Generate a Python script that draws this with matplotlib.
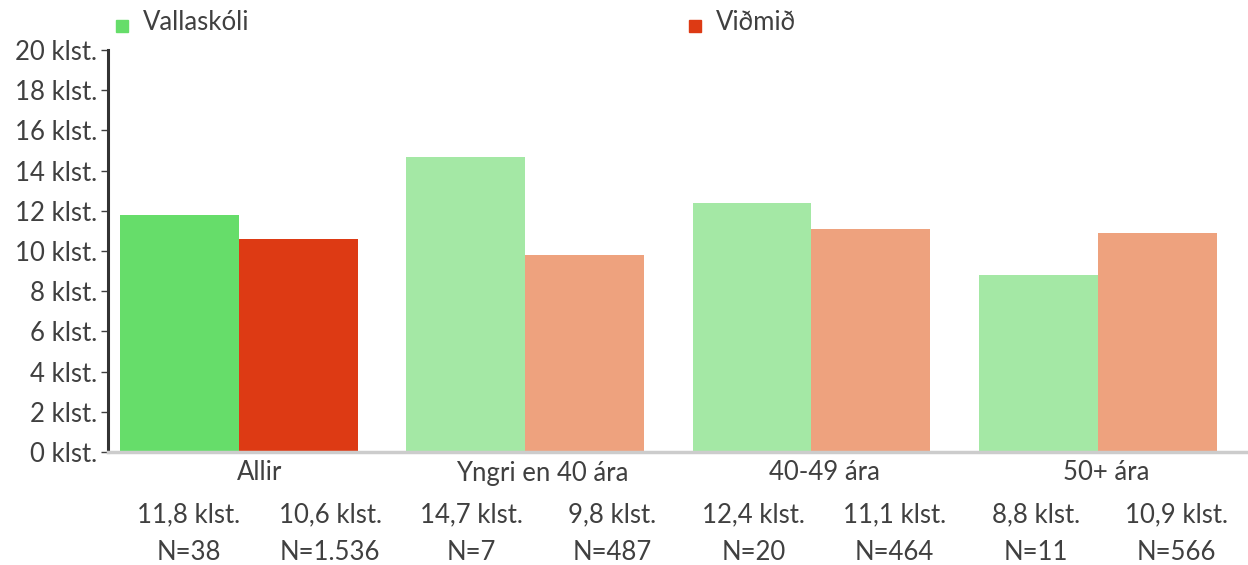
import matplotlib
matplotlib.use("Agg")
import matplotlib.pyplot as plt
from matplotlib.patches import Rectangle

categories = ["Allir", "Yngri en 40 ára", "40-49 ára", "50+ ára"]
school = [11.8, 14.7, 12.4, 8.8]
benchmark = [10.6, 9.8, 11.1, 10.9]
school_n = ["N=38", "N=7", "N=20", "N=11"]
bench_n = ["N=1.536", "N=487", "N=464", "N=566"]
series_names = ["Vallaskóli", "Viðmið"]
yticks = list(range(0, 21, 2))

plt.rcParams['font.family'] = ['Lato', 'DejaVu Sans']
txt = "#404040"
fs = 18.5
W, H = 1248, 565

fig = plt.figure(figsize=(W/100, H/100), dpi=100)
ax = fig.add_axes([108/W, 1-452/H, 1-108/W, (452-50)/H])

school_cols = ["#66dd6a"] + ["#a4e8a5"] * 3
bench_cols = ["#dd3a14"] + ["#eea27e"] * 3
w = 0.415
xs = list(range(len(categories)))
ax.bar([x - w/2 for x in xs], school, width=w, color=school_cols)
ax.bar([x + w/2 for x in xs], benchmark, width=w, color=bench_cols)

ax.set_xlim(-0.457, 3.525)
ax.set_ylim(0, 20)
ax.set_yticks(yticks)
ax.set_yticklabels([f"{t} klst." for t in yticks], color=txt, fontsize=fs)
ax.tick_params(axis='y', length=5, width=1, color=txt, pad=3)
ax.set_xticks([])
for s in ["top", "right"]:
    ax.spines[s].set_visible(False)
ax.spines["left"].set_color("#333333")
ax.spines["left"].set_linewidth(2.2)
ax.spines["bottom"].set_color("#cccccc")
ax.spines["bottom"].set_linewidth(2.5)

def fmt(v):
    return f"{v:.1f}".replace(".", ",") + " klst."

# table of labels below the chart: 8 evenly spaced columns
col0, colstep = 189, 141.1
for i, c in enumerate(categories):
    xa = col0 + colstep * (2 * i)
    xb = col0 + colstep * (2 * i + 1)
    fig.text((xa + xb) / 2 / W, 1 - 473 / H, c, ha='center', va='center', fontsize=fs, color=txt)
    for xc, v, n in [(xa, school[i], school_n[i]), (xb, benchmark[i], bench_n[i])]:
        fig.text(xc / W, 1 - 515 / H, fmt(v), ha='center', va='center', fontsize=fs, color=txt)
        fig.text(xc / W, 1 - 553 / H, n, ha='center', va='center', fontsize=fs, color=txt)

# legend
for xpix, col, name in [(116, "#66dd6a", series_names[0]), (689, "#dd3a14", series_names[1])]:
    fig.patches.append(Rectangle((xpix/W, 1-32/H), 12/W, 12/H,
                                 transform=fig.transFigure, color=col, figure=fig))
    fig.text((xpix+27)/W, 1-23/H, name, fontsize=fs, color=txt, va='center', ha='left')

fig.savefig("out.png", dpi=100)
